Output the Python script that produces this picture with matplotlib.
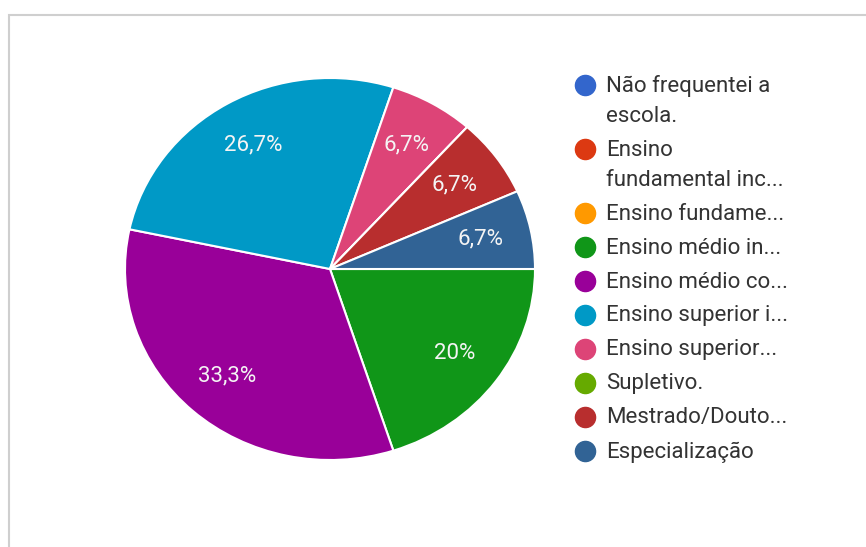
import matplotlib
matplotlib.use('Agg')
import matplotlib.pyplot as plt
from matplotlib.patches import Rectangle

plt.rcParams['font.family'] = ['Roboto', 'DejaVu Sans']

# dados
categorias = ['Não frequentei a\nescola.', 'Ensino\nfundamental inc...', 'Ensino fundame...',
              'Ensino médio in...', 'Ensino médio co...', 'Ensino superior i...',
              'Ensino superior...', 'Supletivo.', 'Mestrado/Douto...', 'Especialização']
respostas = [0, 0, 0, 3, 5, 4, 1, 0, 1, 1]
cores = ['#3366cc', '#dc3912', '#ff9900', '#109618', '#990099',
         '#0099c6', '#dd4477', '#66aa00', '#b82e2e', '#316395']

W, H = 866, 547
fig = plt.figure(figsize=(W / 100, H / 100), dpi=100)

# moldura do cartão
fig.patches.append(Rectangle((9 / W, -0.05), 1.1, 1 - 15 / H + 0.05, transform=fig.transFigure,
                             fill=False, edgecolor='#cfcfcf', linewidth=1.5))

# pizza (a imagem original está um pouco achatada na vertical)
cx, cy, rx, ry = 330, 269, 205, 191
ax = fig.add_axes([(cx - rx) / W, (H - cy - ry) / H, 2 * rx / W, 2 * ry / H])


def rotulo(p):
    if p < 0.01:
        return ''
    s = ('%.1f' % p).rstrip('0').rstrip('.')
    return s.replace('.', ',') + '%'


wedges, textos, autotextos = ax.pie(respostas, colors=cores, startangle=0, counterclock=False,
                                     autopct=rotulo, pctdistance=0.75,
                                     wedgeprops=dict(edgecolor='white', linewidth=1.5),
                                     textprops=dict(color='#f4f4f4', fontsize=16))
ax.set_xlim(-1, 1)
ax.set_ylim(-1, 1)
ax.set_aspect('auto')
ax.axis('off')

# legenda
y = 85
for nome, cor in zip(categorias, cores):
    fig.lines.append(plt.Line2D([585 / W], [1 - y / H], marker='o', markersize=14.5,
                                color=cor, transform=fig.transFigure))
    linhas = nome.split('\n')
    for i, linha in enumerate(linhas):
        fig.text(606 / W, 1 - (y + 1) / H, linha, fontsize=16, color='#333333', va='center')
        y += 30 if i < len(linhas) - 1 else 34

fig.savefig('out.png', dpi=100)
